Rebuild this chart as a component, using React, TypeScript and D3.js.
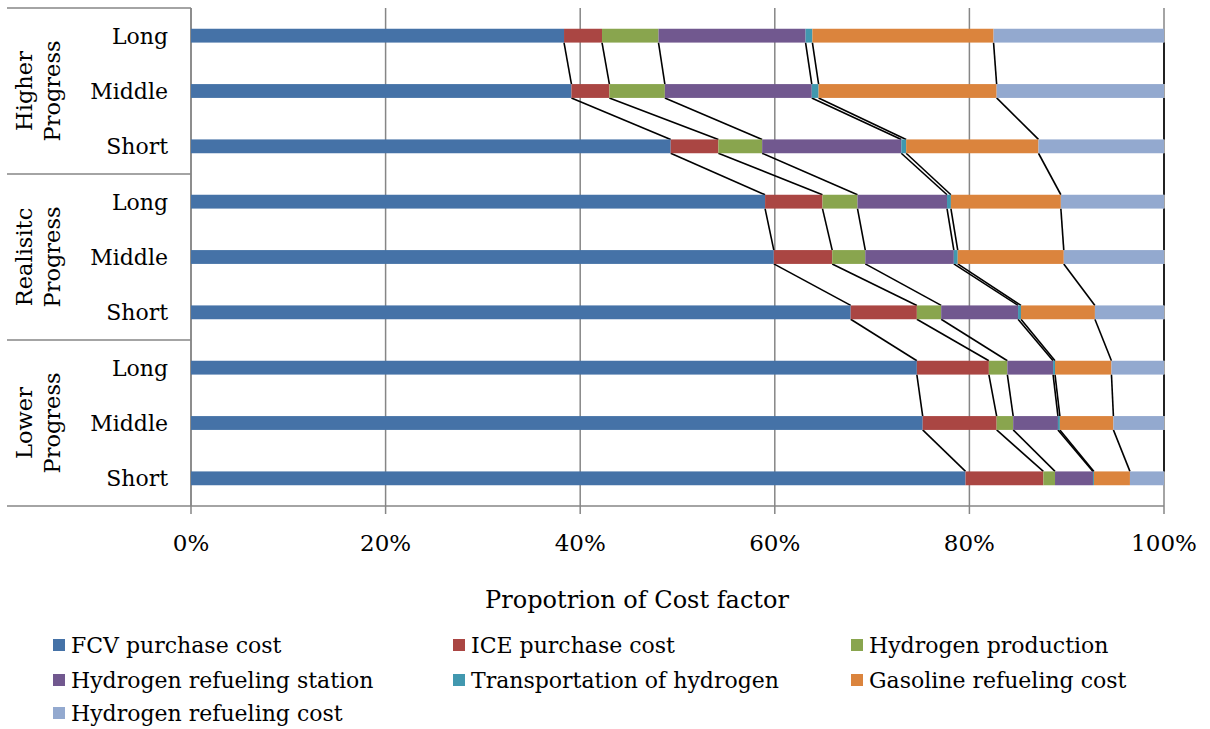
import React from "react";
import * as d3 from "d3";

// Scenario rows, top to bottom
const scenarios = ["Higher Progress", "Realisitc Progress", "Lower Progress"];
const horizons = ["Long", "Middle", "Short"];

const seriesNames = [
  "FCV purchase cost",
  "ICE purchase cost",
  "Hydrogen production",
  "Hydrogen refueling station",
  "Transportation of hydrogen",
  "Gasoline refueling cost",
  "Hydrogen refueling cost",
];

const seriesColors = ["#4572A7", "#AA4643", "#89A54E", "#71588F", "#4198AF", "#DB843D", "#93A9CF"];

// Share (%) of each cost factor per row: HP Long..Short, RP Long..Short, LP Long..Short
const fcvPurchase = [38.3, 39.1, 49.3, 59.0, 59.9, 67.8, 74.6, 75.2, 79.6];
const icePurchase = [3.9, 3.9, 4.9, 5.9, 6.0, 6.8, 7.4, 7.6, 8.0];
const h2Production = [5.8, 5.7, 4.5, 3.6, 3.4, 2.5, 1.9, 1.7, 1.2];
const h2Station = [15.1, 15.1, 14.3, 9.2, 9.1, 7.9, 4.7, 4.6, 3.9];
const h2Transport = [0.7, 0.7, 0.5, 0.4, 0.4, 0.3, 0.2, 0.2, 0.1];
const gasolineRefuel = [18.6, 18.3, 13.6, 11.3, 10.9, 7.6, 5.8, 5.5, 3.7];
const h2Refuel = [17.5, 17.2, 12.9, 10.6, 10.3, 7.1, 5.4, 5.2, 3.5];

const xTicks = [0, 0.2, 0.4, 0.6, 0.8, 1];

const FONT = "'DejaVu Serif', serif";
const AXIS = "#868686";

export default function App() {
  const W = 1210;
  const H = 729;
  const left = 191;
  const right = 1164;
  const top = 8;
  const bottom = 506;

  const seriesValues = [fcvPurchase, icePurchase, h2Production, h2Station, h2Transport, gasolineRefuel, h2Refuel];
  const rows = scenarios.flatMap((s) => horizons.map((h) => `${s}|${h}`));

  // normalise to 100% stacks
  const table = rows.map((key, i) => {
    const o: Record<string, number | string> = { key };
    const total = d3.sum(seriesValues, (v) => v[i]);
    seriesNames.forEach((n, k) => (o[n] = seriesValues[k][i] / total));
    return o;
  });
  const stacked = d3.stack<any>().keys(seriesNames)(table as any);

  const x = d3.scaleLinear().domain([0, 1]).range([left, right]);
  const y = d3.scaleBand<string>().domain(rows).range([top, bottom]).paddingInner(0.75).paddingOuter(0.375);
  const bw = y.bandwidth();
  const step = y.step();
  const groupH = step * 3;

  return (
    <svg width={W} height={H} style={{ display: "block", position: "absolute", left: 0, top: 0, background: "#fff" }}>
      {/* vertical gridlines */}
      {xTicks.map((t) => (
        <line key={`g${t}`} x1={x(t)} x2={x(t)} y1={top} y2={bottom} stroke={AXIS} strokeWidth={1.5} />
      ))}
      {/* x axis line and ticks */}
      <line x1={7} x2={right} y1={bottom} y2={bottom} stroke={AXIS} strokeWidth={1.5} />
      {xTicks.map((t) => (
        <line key={`t${t}`} x1={x(t)} x2={x(t)} y1={bottom} y2={bottom + 8} stroke={AXIS} strokeWidth={1.5} />
      ))}
      {/* category axis with group separators */}
      <line x1={left} x2={left} y1={top} y2={bottom} stroke={AXIS} strokeWidth={1.5} />
      {[0, 1, 2].map((g) => (
        <line key={`sep${g}`} x1={7} x2={left} y1={top + g * groupH} y2={top + g * groupH} stroke={AXIS} strokeWidth={1.5} />
      ))}

      {/* series lines joining stack boundaries between neighbouring bars */}
      {stacked.map((layer, k) => (
        <g key={`sl${k}`}>
          {layer.slice(0, -1).map((d, i) => (
            <line
              key={i}
              x1={x(d[1])}
              y1={(y(rows[i]) as number) + bw}
              x2={x(layer[i + 1][1])}
              y2={y(rows[i + 1]) as number}
              stroke="#000"
              strokeWidth={1.6}
            />
          ))}
        </g>
      ))}

      {/* bars */}
      {stacked.map((layer, k) => (
        <g key={`s${k}`} fill={seriesColors[k]}>
          {layer.map((d, i) => (
            <rect key={i} x={x(d[0])} y={y(rows[i])} width={Math.max(0, x(d[1]) - x(d[0]))} height={bw} />
          ))}
        </g>
      ))}

      {/* category labels */}
      {rows.map((r) => (
        <text
          key={r}
          x={168}
          y={(y(r) as number) + bw / 2 + 8}
          textAnchor="end"
          fontFamily={FONT}
          fontSize={22}
          fill="#000"
        >
          {r.split("|")[1]}
        </text>
      ))}

      {/* scenario group labels */}
      {scenarios.map((s, g) => {
        const cy = top + g * groupH + groupH / 2;
        const [l1, l2] = s.split(" ");
        return (
          <g key={s} fontFamily={FONT} fontSize={22.5} fill="#000" textAnchor="middle">
            <text transform={`translate(32,${cy}) rotate(-90)`}>{l1}</text>
            <text transform={`translate(60,${cy}) rotate(-90)`}>{l2}</text>
          </g>
        );
      })}

      {/* x tick labels */}
      {xTicks.map((t) => (
        <text key={`l${t}`} x={x(t)} y={551} textAnchor="middle" fontFamily={FONT} fontSize={23} fill="#000">
          {d3.format(".0%")(t)}
        </text>
      ))}
      <text x={637} y={608} textAnchor="middle" fontFamily={FONT} fontSize={24} fill="#000">
        Propotrion of Cost factor
      </text>

      {/* legend */}
      {seriesNames.map((n, k) => {
        const col = k % 3;
        const row = Math.floor(k / 3);
        const sx = [53, 453, 851][col];
        const cy = [645, 680, 713][row];
        return (
          <g key={n}>
            <rect x={sx} y={cy - 6} width={12} height={12} fill={seriesColors[k]} />
            <text x={sx + 18} y={cy + 8} fontFamily={FONT} fontSize={22} fill="#000">
              {n}
            </text>
          </g>
        );
      })}
    </svg>
  );
}
